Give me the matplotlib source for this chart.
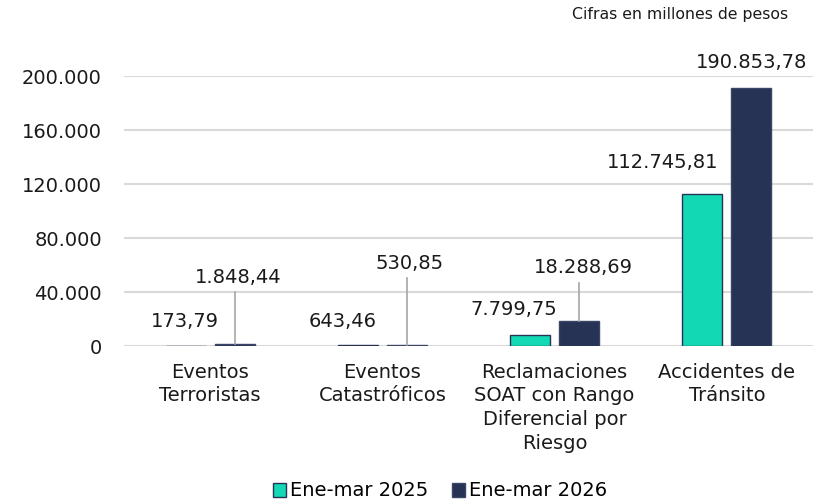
import numpy as np
import matplotlib.pyplot as plt

# data
categorias = ["Eventos\nTerroristas", "Eventos\nCatastróficos",
              "Reclamaciones\nSOAT con Rango\nDiferencial por\nRiesgo",
              "Accidentes de\nTránsito"]
serie_2025 = [173.79, 643.46, 7799.75, 112745.81]
serie_2026 = [1848.44, 530.85, 18288.69, 190853.78]
etiquetas_2025 = ["173,79", "643,46", "7.799,75", "112.745,81"]
etiquetas_2026 = ["1.848,44", "530,85", "18.288,69", "190.853,78"]
yticks = [0, 40000, 80000, 120000, 160000, 200000]
ytick_labels = ["0", "40.000", "80.000", "120.000", "160.000", "200.000"]

c25 = "#12d9b4"
c26 = "#263354"

fig = plt.figure(figsize=(8.26, 5.01), dpi=100)
ax = fig.add_axes([124/826, 155/501, 689/826, 270/501])

x = np.arange(len(categorias))
w = 0.233
off = 0.142
ax.bar(x - off, serie_2025, w, color=c25, edgecolor=c26, linewidth=1, zorder=3,
       label="Ene-mar 2025")
ax.bar(x + off, serie_2026, w, color=c26, edgecolor="#3b4666", linewidth=1, zorder=3,
       label="Ene-mar 2026")

ax.set_xlim(-0.5, 3.5)
ax.set_ylim(0, 200000)
ax.set_yticks(yticks)
ax.set_yticklabels(ytick_labels)
ax.set_xticks(x)
ax.set_xticklabels(categorias, linespacing=1.32)
ax.tick_params(axis="both", length=0, labelsize=14, colors="#1a1a1a")
ax.tick_params(axis="y", pad=16)
ax.tick_params(axis="x", pad=12)
for s in ax.spines.values():
    s.set_visible(False)
ax.grid(axis="y", color="#d9d9d9", linewidth=1.5, zorder=0)

# label positions (x, y) in data units, leader lines for some
pos_2025 = [(-0.146, 17778), (0.771, 17778), (1.764, 27407), (2.629, 135556)]
pos_2026 = [(0.162, 51111), (1.160, 61481), (2.165, 57778), (3.146, 209630)]
leader_2026 = [(0.144, 40000), (1.144, 50370), (2.144, 46667), None]

for (px, py), t in zip(pos_2025, etiquetas_2025):
    ax.text(px, py, t, ha="center", va="center", fontsize=14, color="#1a1a1a",
            clip_on=False)
for i, ((px, py), t) in enumerate(zip(pos_2026, etiquetas_2026)):
    ax.text(px, py, t, ha="center", va="center", fontsize=14, color="#1a1a1a",
            clip_on=False)
    if leader_2026[i] is not None:
        lx, ly = leader_2026[i]
        ax.plot([lx, lx], [ly, serie_2026[i]], color="#a6a6a6", linewidth=1.2,
                zorder=4)

fig.text(788/826, 1 - 15/501, "Cifras en millones de pesos", ha="right",
         va="center", fontsize=11.3, color="#1a1a1a")

fig.legend(loc="center", bbox_to_anchor=(440/826, 1 - 491/501), ncol=2,
           frameon=False, fontsize=14, handlelength=0.7, handleheight=0.7,
           handletextpad=0.2, columnspacing=1.2)

fig.savefig("out.png", dpi=100)
